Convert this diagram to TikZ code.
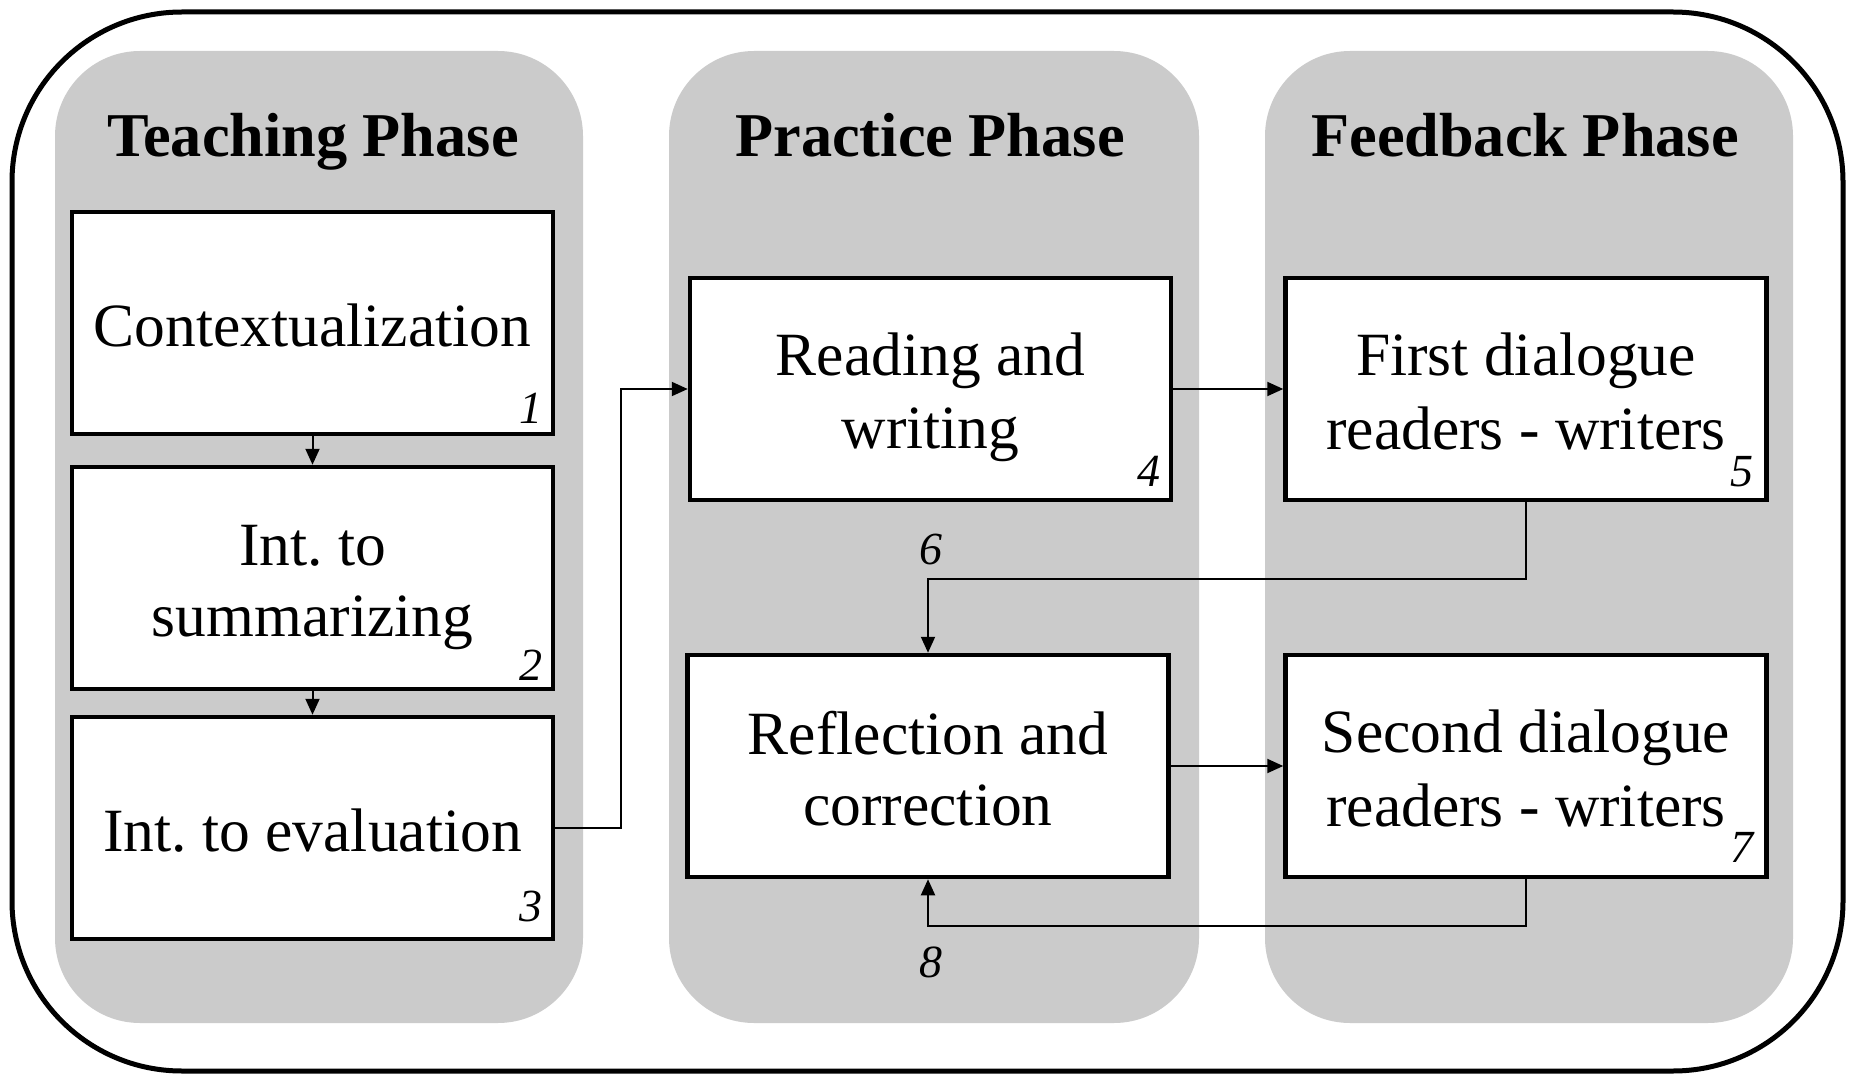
\documentclass[tikz,border=0pt]{standalone}
\usepackage{fontspec}
\setmainfont{Liberation Serif}
\usetikzlibrary{arrows.meta}
\frenchspacing
\definecolor{panelgray}{RGB}{203,203,203}
\newcommand\boxfont{\fontsize{61.5}{71}\selectfont}
\newcommand\titlefont{\fontsize{62.3}{70}\selectfont\bfseries}
\newcommand\numfont{\fontsize{46}{50}\selectfont\itshape}
\newcommand\bs{\rule[-12pt]{0pt}{71pt}}
\tikzset{
  panel/.style={fill=panelgray, draw=none, rounded corners=85pt},
  stepbox/.style={draw, line width=4.5pt, fill=white, minimum width=481pt, minimum height=222pt, inner sep=0pt, align=center, font=\boxfont},
  title/.style={font=\titlefont, inner sep=0pt, anchor=base},
  num/.style={font=\numfont, anchor=base east, inner sep=0pt},
  conn/.style={line width=2pt, -{Triangle[length=16pt,width=14pt]}},
}
\begin{document}
\begin{tikzpicture}[x=1pt,y=-1pt]
\useasboundingbox (0,0) rectangle (1850,1075);
% outer frame
\draw[line width=5pt, rounded corners=170pt] (12,12) rectangle (1843,1071);
% panels
\fill[panel] (55,51) rectangle (583,1023);
\fill[panel] (669,51) rectangle (1199,1023);
\fill[panel] (1265,51) rectangle (1793,1023);
% titles
\node[title] (t1) at (313,157) {Teaching Phase};
\node[title] (t2) at (930,157) {Practice Phase};
\node[title] (t3) at (1525,157) {Feedback Phase};
% boxes
\node[stepbox] (b1) at (312.5,323) {\bs Contextualization};
\node[stepbox] (b2) at (312.5,578) {\bs Int. to\\\bs summarizing};
\node[stepbox] (b3) at (312.5,828) {\bs Int. to evaluation};
\node[stepbox] (b4) at (930.5,389) {\bs Reading and\\\bs writing};
\node[stepbox] (b5) at (1526,389) {\bs First dialogue\\\bs readers - writers};
\node[stepbox] (bR) at (928,766) {\bs Reflection and\\\bs correction};
\node[stepbox] (b7) at (1526,766) {\bs Second dialogue\\\bs readers - writers};
% numbers
\node[num] (n1) at ([shift={(-13,-13)}]b1.south east) {1};
\node[num] (n2) at ([shift={(-13,-11)}]b2.south east) {2};
\node[num] (n3) at ([shift={(-13,-20)}]b3.south east) {3};
\node[num] (n4) at ([shift={(-13,-16)}]b4.south east) {4};
\node[num] (n5) at ([shift={(-15,-16)}]b5.south east) {5};
\node[num] (n7) at ([shift={(-15,-17)}]b7.south east) {7};
\node[font=\numfont, inner sep=0pt] (n6) at (931,549) {6};
\node[font=\numfont, inner sep=0pt] (n8) at (931,962) {8};
% connectors
\coordinate (c34) at (621,0);
\draw[conn] (b1.south) -- (b2.north);
\draw[conn] (b2.south) -- (b3.north);
\draw[conn] (b3.east) -- (b3.east -| c34) |- (b4.west);
\draw[conn] (b4.east) -- (b5.west);
\draw[conn] (b5.south) -- ++(0,77) -| (bR.north);
\draw[conn] (bR.east) -- (b7.west);
\draw[conn] (b7.south) -- ++(0,47) -| (bR.south);
\end{tikzpicture}
\end{document}
